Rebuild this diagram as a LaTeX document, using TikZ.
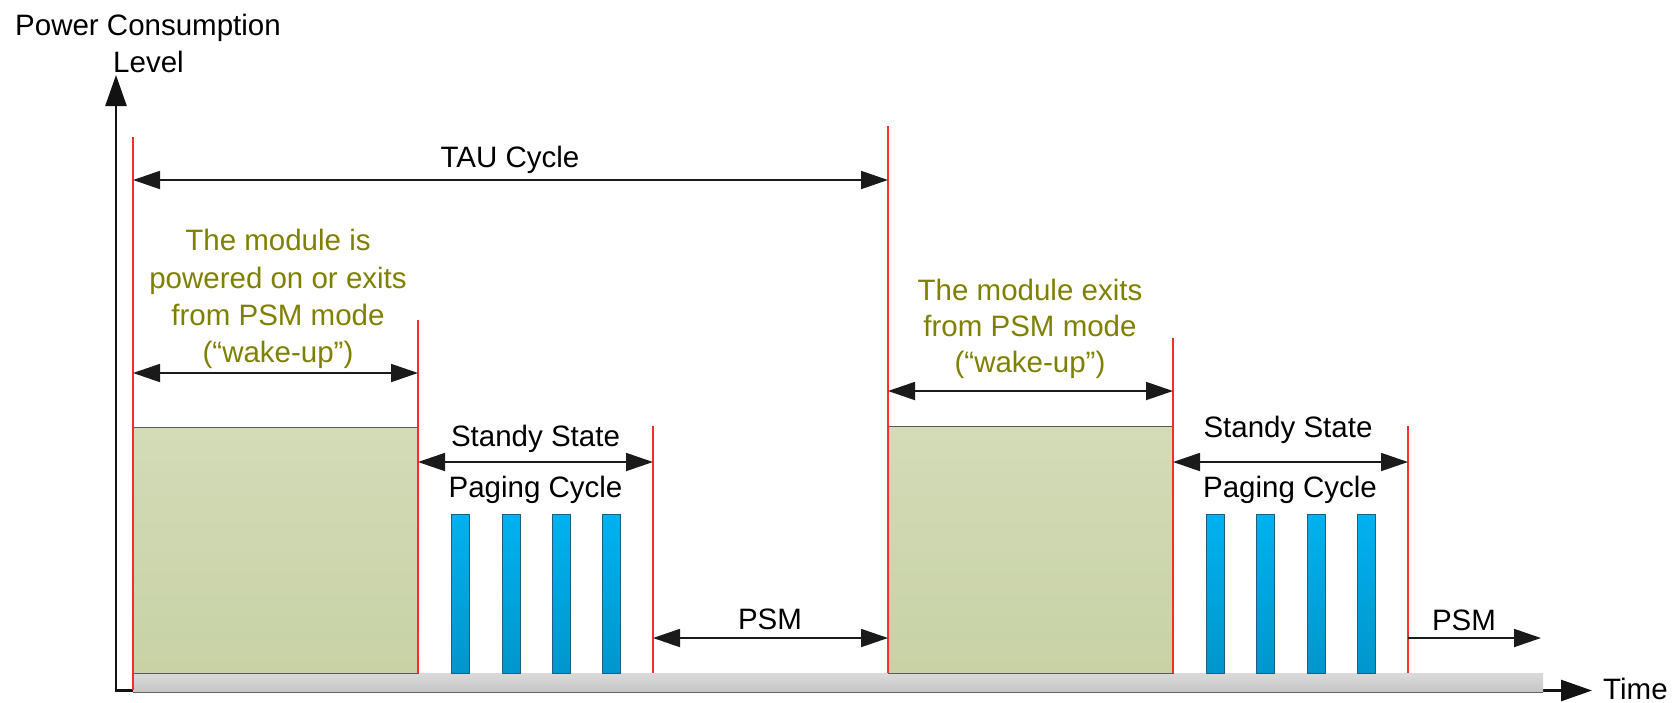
\documentclass[tikz,border=0pt]{standalone}
\usepackage{fontspec}
\setmainfont{Liberation Sans}
\usetikzlibrary{arrows.meta}
\definecolor{redline}{HTML}{FF2A2A}
\definecolor{olivetext}{HTML}{808000}
\definecolor{dimline}{HTML}{1A1A1A}
\definecolor{greentop}{HTML}{D3DBB8}
\definecolor{greenbot}{HTML}{C8D2A5}
\definecolor{bluetop}{HTML}{00B2F0}
\definecolor{bluebot}{HTML}{0096CC}
\definecolor{blueedge}{HTML}{1F5E7E}
\definecolor{greytop}{HTML}{DADADA}
\definecolor{greybot}{HTML}{C6C6C6}
\begin{document}
\begin{tikzpicture}[x=1pt,y=-1pt,
  lbl/.style={font=\fontsize{29.5}{36}\selectfont, inner sep=0pt, anchor=base, text=black},
  olivelbl/.style={lbl, text=olivetext},
  redl/.style={draw=redline, line width=1.6pt},
  dim/.style={draw=dimline, line width=1.8pt, {Triangle[length=27pt,width=18pt]}-{Triangle[length=27pt,width=18pt]}},
  dimone/.style={draw=dimline, line width=1.8pt, -{Triangle[length=27pt,width=18pt]}},
  axisline/.style={draw=black!93, line width=2.6pt, line join=miter, {Triangle[length=31pt,width=21pt]}-{Triangle[length=31pt,width=21pt]}},
  greenbox/.style={draw=black!65, line width=1pt, top color=greentop, bottom color=greenbot},
  bluebar/.style={draw=blueedge, line width=1pt, top color=bluetop, bottom color=bluebot},
  greybar/.style={top color=greytop, bottom color=greybot}
]
\useasboundingbox (0,0) rectangle (1672,702);
\fill[white] (0,0) rectangle (1672,702);

% axes
\coordinate (origin) at (116,690.5);
\coordinate (ytip) at (116,75);
\coordinate (xtip) at (1592,690.5);
\draw[axisline] (ytip) -- (origin) -- (xtip);

% grey time bar
\path[greybar] (133,673) rectangle (1543,692);
\draw[black!60, line width=1pt] (133,692) -- (1543,692);

% green wake-up boxes
\path[greenbox] (133,427) rectangle (418,673);
\path[greenbox] (888,426) rectangle (1173,673);

% paging bars
\foreach \x in {451,502,552,602,1206,1256,1307,1357}
  \path[bluebar] (\x,514) rectangle ++(18,159);

% red markers
\coordinate (r1t) at (133,137);   \coordinate (r1b) at (133,690);
\coordinate (r2t) at (418,320);   \coordinate (r2b) at (418,673);
\coordinate (r3t) at (653,426);   \coordinate (r3b) at (653,673);
\coordinate (r4t) at (888,126);   \coordinate (r4b) at (888,673);
\coordinate (r5t) at (1173,338);  \coordinate (r5b) at (1173,673);
\coordinate (r6t) at (1408,426);  \coordinate (r6b) at (1408,673);
\foreach \i in {1,...,6} \draw[redl] (r\i t) -- (r\i b);

% dimension arrow ends
\coordinate (tauA) at (133,180);  \coordinate (tauB) at (888,180);
\coordinate (wuA) at (133,373);   \coordinate (wuB) at (418,373);
\coordinate (sbA) at (418,462);   \coordinate (sbB) at (653,462);
\coordinate (psA) at (653,638);   \coordinate (psB) at (888,638);
\coordinate (wvA) at (888,391);   \coordinate (wvB) at (1173,391);
\coordinate (scA) at (1173,462);  \coordinate (scB) at (1408,462);
\coordinate (ptA) at (1408,638);  \coordinate (ptB) at (1541,638);

\draw[dim] (tauA) -- (tauB);
\draw[dim] (wuA) -- (wuB);
\draw[dim] (sbA) -- (sbB);
\draw[dim] (psA) -- (psB);
\draw[dim] (wvA) -- (wvB);
\draw[dim] (scA) -- (scB);
\draw[dimone] (ptA) -- (ptB);

% labels
\node[lbl, anchor=base west] (pcl) at (15,35) {Power Consumption};
\node[lbl, anchor=base west] (lvl) at (113,72) {Level};
\node[lbl, anchor=base west] (time) at (1603,699) {Time};
\node[lbl] (tau) at (510,167) {TAU Cycle};

\node[olivelbl] (wa1) at (278,250) {The module is};
\node[olivelbl] (wa2) at (278,288) {powered on or exits};
\node[olivelbl] (wa3) at (278,325) {from PSM mode};
\node[olivelbl] (wa4) at (278,362) {(“wake-up”)};

\node[olivelbl] (wb1) at (1030,300) {The module exits};
\node[olivelbl] (wb2) at (1030,336) {from PSM mode};
\node[olivelbl] (wb3) at (1030,372) {(“wake-up”)};

\node[lbl] (ss1) at (535.5,446) {Standy State};
\node[lbl] (pc1) at (535.5,497) {Paging Cycle};
\node[lbl] (ss2) at (1288,437) {Standy State};
\node[lbl] (pc2) at (1290,497) {Paging Cycle};
\node[lbl] (psm1) at (770,629) {PSM};
\node[lbl] (psm2) at (1464,630) {PSM};
\end{tikzpicture}
\end{document}
